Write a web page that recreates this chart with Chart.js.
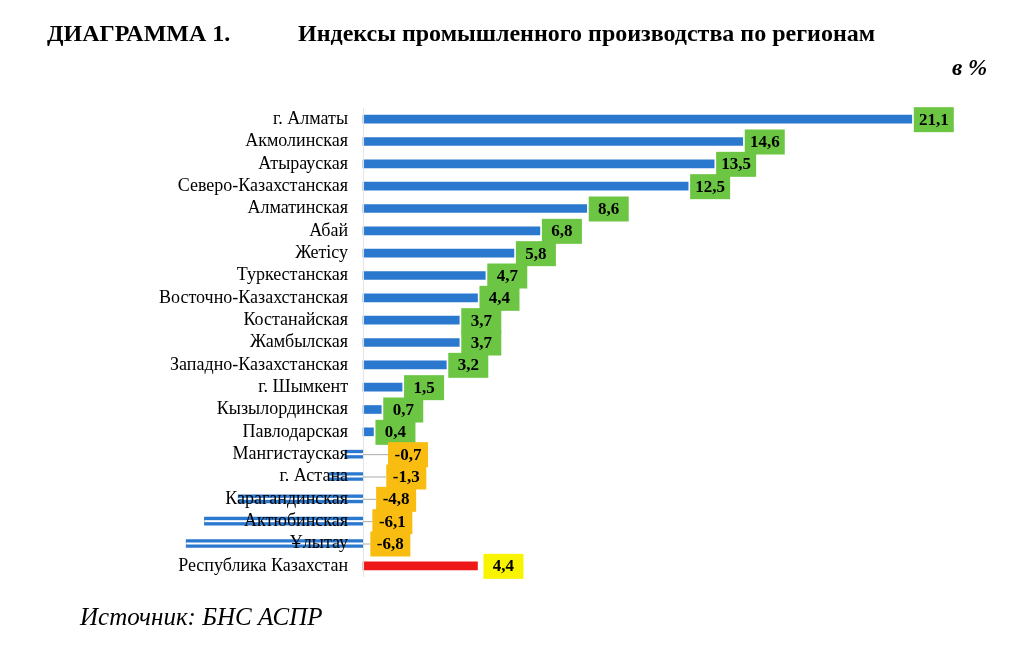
<!DOCTYPE html>
<html><head><meta charset="utf-8">
<script src="https://cdn.jsdelivr.net/npm/chart.js@4"></script>
<style>
body{margin:0;background:#fff;font-family:"Liberation Serif",serif;}
#wrap{position:absolute;left:0;top:0;width:1024px;height:650px;}
.t{position:absolute;font-weight:bold;font-size:24px;color:#000;white-space:nowrap}
</style></head><body>
<div id="wrap"><canvas id="c" width="1024" height="650"></canvas></div>
<div class="t" style="left:47px;top:20px">ДИАГРАММА 1.</div>
<div class="t" style="left:298px;top:20px">Индексы промышленного производства по регионам</div>
<div class="t" style="left:952px;top:55px;font-style:italic;font-size:23px">в %</div>
<div class="t" style="left:80px;top:603px;font-style:italic;font-weight:normal;font-size:25px">Источник: БНС АСПР</div>
<script>
const categories=["г. Алматы","Акмолинская","Атырауская","Северо-Казахстанская","Алматинская","Абай","Жетісу","Туркестанская","Восточно-Казахстанская","Костанайская","Жамбылская","Западно-Казахстанская","г. Шымкент","Кызылординская","Павлодарская","Мангистауская","г. Астана","Карагандинская","Актюбинская","Ұлытау","Республика Казахстан"];
const values=[21.1,14.6,13.5,12.5,8.6,6.8,5.8,4.7,4.4,3.7,3.7,3.2,1.5,0.7,0.4,-0.7,-1.3,-4.8,-6.1,-6.8,4.4];
const BLUE="#2b78cf",RED="#ee1818",GREEN="#6cc644",ORANGE="#f8bd10",YELLOW="#f8f400";
const colors=values.map((v,i)=>i===values.length-1?RED:BLUE);
const fmt=v=>v.toFixed(1).replace('.',',');
const plug={id:'p',afterDatasetsDraw(ch){
 const ctx=ch.ctx,x=ch.scales.x,y=ch.scales.y,meta=ch.getDatasetMeta(0);
 const x0=x.getPixelForValue(0);
 ctx.save();
 values.forEach((v,i)=>{ if(v<0){const b=meta.data[i];ctx.fillStyle='#fff';ctx.fillRect(b.x,b.y-1,x0-b.x,2);} });
 ctx.strokeStyle='#e4e4e4';ctx.lineWidth=1;ctx.beginPath();ctx.moveTo(x0+0.5,y.top);ctx.lineTo(x0+0.5,y.bottom);ctx.stroke();
 ctx.font='18px "Liberation Serif"';ctx.fillStyle='#000';ctx.textAlign='right';ctx.textBaseline='middle';
 categories.forEach((c,i)=>ctx.fillText(c,x0-15,y.getPixelForValue(i)));
 ctx.font='bold 17px "Liberation Serif"';ctx.textAlign='center';
 values.forEach((v,i)=>{
  const b=meta.data[i],yy=b.y;let left,col;
  if(i===values.length-1){left=x.getPixelForValue(v)+6;col=YELLOW;}
  else if(v>=0){left=x.getPixelForValue(v)+2;col=GREEN;}
  else{left=x0+27-2.9*Math.abs(v);col=ORANGE;
   ctx.strokeStyle='#aaa';ctx.beginPath();ctx.moveTo(x0,yy+0.5);ctx.lineTo(left,yy+0.5);ctx.stroke();}
  const w=40;
  ctx.fillStyle=col;ctx.fillRect(left,yy-12,w,25);
  ctx.fillStyle='#000';ctx.fillText(fmt(v),left+w/2,yy+1);
 });
 ctx.restore();
}};
new Chart(document.getElementById('c'),{type:'bar',
 data:{labels:categories,datasets:[{data:values,backgroundColor:colors,barThickness:8}]},
 options:{indexAxis:'y',responsive:false,animation:false,
  layout:{padding:{left:181,right:94,top:108,bottom:73}},
  plugins:{legend:{display:false},tooltip:{enabled:false}},
  scales:{x:{min:-7,max:21.8,display:false},y:{display:false}}},
 plugins:[plug]});
</script></body></html>
